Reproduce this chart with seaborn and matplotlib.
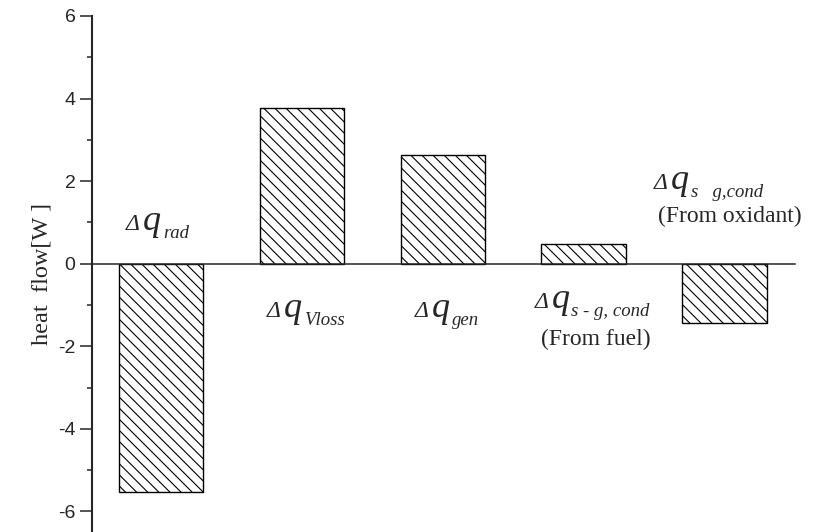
import numpy as np
import seaborn as sns
import matplotlib.pyplot as plt

# heat flow terms (W)
terms = ['rad', 'Vloss', 'gen', 's-g fuel', 's-g oxidant']
values = [-5.52, 3.78, 2.64, 0.48, -1.43]

# label pieces: subscript, extra line, anchor (data coords of the Delta)
subs = ['rad', 'Vloss', 'gen', 's - g, cond', 's   g,cond']
notes = ['', '', '', '(From fuel)', '(From oxidant)']
lab_x = [-0.25, 0.75, 1.80, 2.65, 3.50]
lab_y = [0.82, -1.28, -1.28, -1.07, 1.82]
note_x = [0, 0, 0, 2.70, 3.53]
note_y = [0, 0, 0, -1.96, 1.02]

sns.set_style('ticks')
plt.rcParams['font.family'] = ['Liberation Sans', 'DejaVu Sans']
plt.rcParams['axes.unicode_minus'] = False
plt.rcParams['hatch.linewidth'] = 0.8

fig = plt.figure(figsize=(8.22, 5.32), dpi=100)
ax = fig.add_axes([0.112, 0.0, 0.855, 0.970])

sns.barplot(x=terms, y=values, ax=ax, color='white', edgecolor='black',
            linewidth=1.0, width=0.6, saturation=1)
for p in ax.patches:
    p.set_facecolor('white')
    p.set_hatch('\\\\\\')

ax.set_xlim(-0.49, 4.5)
ax.set_ylim(-6.5, 6)
ax.set_yticks(np.arange(-6, 7, 2))
ax.set_yticks(np.arange(-5, 6, 2), minor=True)
ax.set_xticks([])
ax.tick_params(axis='y', which='major', length=8.4, width=1.1, labelsize=14, pad=3.5)
ax.tick_params(axis='y', which='minor', length=3.8, width=1.1)

ax.spines['top'].set_visible(False)
ax.spines['right'].set_visible(False)
ax.spines['left'].set_linewidth(1.5)
ax.spines['bottom'].set_position(('data', 0))
ax.spines['bottom'].set_linewidth(1.1)

ax.set_ylabel('heat  flow[W ]', family='Liberation Serif', fontsize=17.5, labelpad=4)

for i in range(len(subs)):
    xy = (lab_x[i], lab_y[i])
    ax.annotate('\u0394', xy, xytext=(0, 0), textcoords='offset pixels',
                fontsize=17, ha='left', va='baseline',
                family='Liberation Serif', style='italic')
    ax.annotate('q', xy, xytext=(17, 0), textcoords='offset pixels',
                fontsize=26, ha='left', va='baseline',
                family='Liberation Serif', style='italic')
    ax.annotate(subs[i], xy, xytext=(37, -8), textcoords='offset pixels',
                fontsize=13.5, ha='left', va='baseline',
                family='Liberation Serif', style='italic')
    if notes[i]:
        ax.text(note_x[i], note_y[i], notes[i], family='Liberation Serif',
                fontsize=17, ha='left', va='baseline')

fig.savefig('out.png', dpi=100)
